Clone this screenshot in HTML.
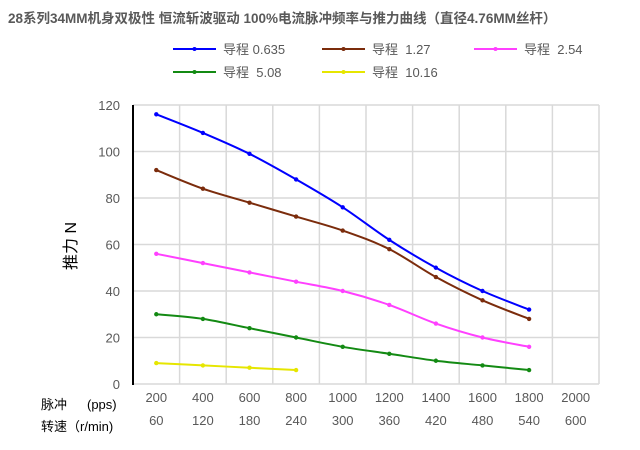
<!DOCTYPE html>
<html><head><meta charset="utf-8"><style>
body{margin:0;background:#fff;}
svg{display:block;font-family:"Liberation Sans","Noto Sans CJK SC",sans-serif;}
</style></head><body>
<svg id="c" width="640" height="450">
<text x="8" y="23" font-size="13.5" font-weight="bold" fill="#595959">28系列34MM机身双极性 恒流斩波驱动 100%电流脉冲频率与推力曲线（直径4.76MM丝杆）</text>
<g id="grid"></g><g id="series"></g><g id="legend"></g>
<text transform="translate(76,246) rotate(-90)" text-anchor="middle" font-size="16" fill="#000">推力 N</text>
<text x="41" y="409" font-size="13" fill="#000">脉冲</text>
<text x="87" y="409" font-size="13" fill="#000">(pps)</text>
<text x="41" y="431" font-size="13" fill="#000">转速（r/min)</text>
</svg>
<script>
const categories=[200,400,600,800,1000,1200,1400,1600,1800,2000];
const speeds=[60,120,180,240,300,360,420,480,540,600];
const yTicks=[0,20,40,60,80,100,120];
const seriesNames=["导程 0.635","导程  1.27","导程  2.54","导程  5.08","导程  10.16"];
const seriesColors=["#0000ff","#7b2c0c","#ff40ff","#138a13","#e6e600"];
const s1=[116,108,99,88,76,62,50,40,32];
const s2=[92,84,78,72,66,58,46,36,28];
const s3=[56,52,48,44,40,34,26,20,16];
const s4=[30,28,24,20,16,13,10,8,6];
const s5=[9,8,7,6];
const allSeries=[s1,s2,s3,s4,s5];
const L=133,R=599,T=105,B=384;
const cw=(R-L)/categories.length;
const xs=i=>L+cw*(i+0.5);
const ys=v=>B-(v/120)*(B-T);
const NS="http://www.w3.org/2000/svg";
function mk(tag,attrs,parent){const e=document.createElementNS(NS,tag);for(const k in attrs)e.setAttribute(k,attrs[k]);parent.appendChild(e);return e;}
const grid=document.getElementById('grid');
yTicks.forEach(v=>{
  if(v>0){const g=mk('line',{x1:L,x2:R,y1:ys(v),y2:ys(v),stroke:'#d9d9d9','stroke-width':1.5},grid);
  
  }
  const t=mk('text',{x:L-13,y:ys(v)+5,'text-anchor':'end','font-size':13,fill:'#595959'},grid);
  t.textContent=v;
  
  
});
for(let i=1;i<=categories.length;i++){
  const g=mk('line',{x1:L+cw*i,x2:L+cw*i,y1:T,y2:B,stroke:'#d9d9d9','stroke-width':1.5},grid);
  
  
}
categories.forEach((c,i)=>{
  const t=mk('text',{x:xs(i),y:402,'text-anchor':'middle','font-size':13,fill:'#595959'},grid);
  t.textContent=c;
  
  
  const t2=mk('text',{x:xs(i),y:425,'text-anchor':'middle','font-size':13,fill:'#595959'},grid);
  t2.textContent=speeds[i];
  
  
});
const xa=mk('line',{x1:L,x2:R,y1:B,y2:B,stroke:'#d9d9d9','stroke-width':1.5},grid);


const ya=mk('line',{x1:L,x2:L,y1:T,y2:B+1,stroke:'#000','stroke-width':2},grid);


function smooth(p){let d=`M${p[0][0]},${p[0][1]}`;for(let i=0;i<p.length-1;i++){const p0=p[i-1]||p[i],p1=p[i],p2=p[i+1],p3=p[i+2]||p2;
const c1=[p1[0]+(p2[0]-p0[0])/6,p1[1]+(p2[1]-p0[1])/6],c2=[p2[0]-(p3[0]-p1[0])/6,p2[1]-(p3[1]-p1[1])/6];
d+=` C${c1[0]},${c1[1]} ${c2[0]},${c2[1]} ${p2[0]},${p2[1]}`;}return d;}
const sg=document.getElementById('series');
allSeries.forEach((s,k)=>{
  const pts=s.map((v,i)=>[xs(i),ys(v)]);
  const p=mk('path',{d:smooth(pts),fill:'none',stroke:seriesColors[k],'stroke-width':2},sg);
  
  
  pts.forEach(q=>{const c=mk('circle',{cx:q[0],cy:q[1],r:2.2,fill:seriesColors[k]},sg);
  
  });
});
const lg=document.getElementById('legend');
const lpos=[[173,49],[322,49],[474,49],[173,72],[322,72]];
seriesNames.forEach((n,k)=>{
  const [x,y]=lpos[k];
  const l=mk('line',{x1:x,x2:x+43,y1:y,y2:y,stroke:seriesColors[k],'stroke-width':2},lg);
  
  
  const c=mk('circle',{cx:x+21.5,cy:y,r:2,fill:seriesColors[k]},lg);
  
  
  const t=mk('text',{x:x+50,y:y+5,'font-size':13,fill:'#595959'},lg);
  t.setAttribute('style','white-space:pre');
  t.textContent=n;
  
  
});
</script>
</body></html>
